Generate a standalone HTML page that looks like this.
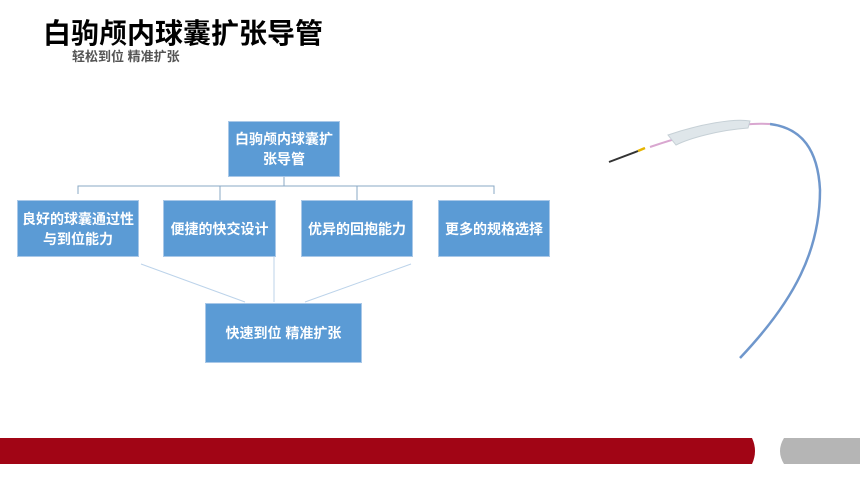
<!DOCTYPE html>
<html><head><meta charset="utf-8"><style>
body{margin:0;width:860px;height:484px;background:#fff;position:relative;overflow:hidden;font-family:"Liberation Sans","Noto Sans CJK SC",sans-serif}
.b{position:absolute;background:#5b9bd5;border:1px solid #a9c8e8;color:#fff;font-weight:bold;font-size:14px;display:flex;align-items:center;justify-content:center;text-align:center;line-height:20px;box-sizing:border-box}
</style></head><body>
<div style="position:absolute;left:43px;top:12px;font-size:28px;font-weight:bold;color:#000">白驹颅内球囊扩张导管</div>
<div style="position:absolute;left:72px;top:46px;font-size:13px;font-weight:bold;color:#555">轻松到位 精准扩张</div>
<svg width="860" height="484" style="position:absolute;left:0;top:0">
<g stroke="#8aa8c4" stroke-width="1" fill="none">
<path d="M284 176V186M78 194V186H494V194M220 186V200M357 186V200"/>
</g>
<g stroke="#bcd3ea" stroke-width="1">
<line x1="141" y1="264" x2="245" y2="302"/><line x1="274" y1="256" x2="274" y2="302"/><line x1="411" y1="264" x2="305" y2="302"/>
</g>
<path d="M740 358 C795 300 820 250 820 190 C818 150 802 128 770 124" stroke="#6f97cc" stroke-width="2.5" fill="none"/>
<path d="M770 124 C740 122 700 130 650 147" stroke="#d9a7d0" stroke-width="2" fill="none"/>
<path d="M668 135 C700 124 735 118 750 121 L748 128 C720 130 690 138 676 145 Z" fill="#dfe6ea" stroke="#c6d0d6"/>
<line x1="638" y1="151" x2="645" y2="148" stroke="#e6b400" stroke-width="2.5"/>
<line x1="609" y1="162" x2="638" y2="151" stroke="#333" stroke-width="2"/>
<path d="M0 438H752Q758 451 752 464H0Z" fill="#a10515"/>
<path d="M784 438H860V464H784Q776 451 784 438Z" fill="#b5b5b5"/>
</svg>
<div class="b" style="left:228px;top:121px;width:112px;height:56px">白驹颅内球囊扩<br>张导管</div>
<div class="b" style="left:17px;top:200px;width:122px;height:57px">良好的球囊通过性<br>与到位能力</div>
<div class="b" style="left:163px;top:200px;width:113px;height:57px">便捷的快交设计</div>
<div class="b" style="left:301px;top:200px;width:112px;height:57px">优异的回抱能力</div>
<div class="b" style="left:438px;top:200px;width:112px;height:57px">更多的规格选择</div>
<div class="b" style="left:205px;top:303px;width:157px;height:60px">快速到位 精准扩张</div>
</body></html>
